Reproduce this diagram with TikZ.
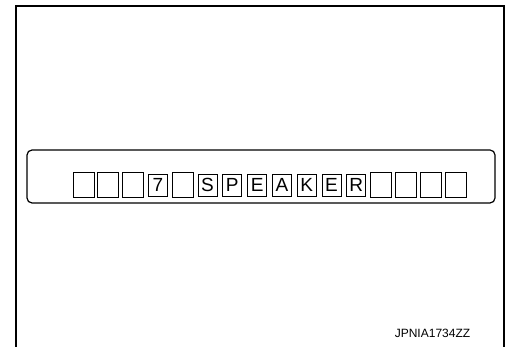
\documentclass[tikz,border=0pt]{standalone}
\usepackage{fontspec}
\setmainfont{Liberation Sans}
\usepackage{xcolor}

\tikzset{
  emptycell/.style={draw, line width=0.9pt, minimum width=21pt, minimum height=25pt, inner sep=0pt},
  lettercell/.style={draw, line width=0.8pt, minimum width=19pt, minimum height=22pt, inner sep=0pt, font=\fontsize{19}{19}\selectfont},
}

\begin{document}
\begin{tikzpicture}[x=1pt,y=-1pt]
\useasboundingbox (0,0) rectangle (506,347) ;

\draw[line width=2.2pt] (16,347) -- (16,6) -- (504,6) -- (504,347) ;

\draw[line width=1.2pt, rounded corners=5pt] (27,150) rectangle (495,203) ;

\node[emptycell] (c1) at (83.5,185) {} ;
\node[emptycell] (c2) at (108.3,185) {} ;
\node[emptycell] (c3) at (133.1,185) {} ;
\node[lettercell] (c4) at (157.9,185) {7} ;
\node[emptycell] (c5) at (182.7,185) {} ;
\node[lettercell] (c6) at (207.5,185) {S} ;
\node[lettercell] (c7) at (232.3,185) {P} ;
\node[lettercell] (c8) at (257.1,185) {E} ;
\node[lettercell] (c9) at (281.9,185) {A} ;
\node[lettercell] (c10) at (306.7,185) {K} ;
\node[lettercell] (c11) at (331.5,185) {E} ;
\node[lettercell] (c12) at (356.3,185) {R} ;
\node[emptycell] (c13) at (381.1,185) {} ;
\node[emptycell] (c14) at (405.9,185) {} ;
\node[emptycell] (c15) at (430.7,185) {} ;
\node[emptycell] (c16) at (455.5,185) {} ;

\node[font=\fontsize{12}{12}\selectfont] (code) at (432.5,333) {JPNIA1734ZZ} ;

\end{tikzpicture}
\end{document}
